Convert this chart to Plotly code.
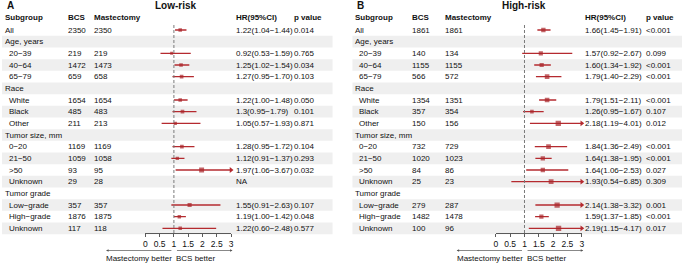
import plotly.graph_objects as go

# ---------------- data ----------------
subgroups = ["All", "Age, years", "20−39", "40−64", "65−79", "Race", "White", "Black", "Other",
             "Tumor size, mm", "0−20", "21−50", ">50", "Unknown", "Tumor grade",
             "Low−grade", "High−grade", "Unknown"]
is_header = [False, True, False, False, False, True, False, False, False,
             True, False, False, False, False, True, False, False, False]

bcs_low = [2350, None, 219, 1472, 659, None, 1654, 485, 211, None, 1169, 1059, 93, 29, None, 357, 1876, 117]
mast_low = [2350, None, 219, 1473, 658, None, 1654, 483, 213, None, 1169, 1058, 95, 28, None, 357, 1875, 118]
hr_low = [1.22, None, 0.92, 1.25, 1.27, None, 1.22, 1.30, 1.05, None, 1.28, 1.12, 1.97, None, None, 1.55, 1.19, 1.22]
lo_low = [1.04, None, 0.53, 1.02, 0.95, None, 1.00, 0.95, 0.57, None, 0.95, 0.91, 1.06, None, None, 0.91, 1.00, 0.60]
hi_low = [1.44, None, 1.59, 1.54, 1.70, None, 1.48, 1.79, 1.93, None, 1.72, 1.37, 3.67, None, None, 2.63, 1.42, 2.48]
hrtxt_low = ["1.22(1.04−1.44)", "", "0.92(0.53−1.59)", "1.25(1.02−1.54)", "1.27(0.95−1.70)", "",
             "1.22(1.00−1.48)", "1.3(0.95−1.79)", "1.05(0.57−1.93)", "", "1.28(0.95−1.72)",
             "1.12(0.91−1.37)", "1.97(1.06−3.67)", "NA", "", "1.55(0.91−2.63)", "1.19(1.00−1.42)",
             "1.22(0.60−2.48)"]
p_low = ["0.014", "", "0.765", "0.034", "0.103", "", "0.050", "0.101", "0.871", "", "0.104", "0.293",
         "0.032", "", "", "0.107", "0.048", "0.577"]

bcs_high = [1861, None, 140, 1155, 566, None, 1354, 357, 150, None, 732, 1020, 84, 25, None, 279, 1482, 100]
mast_high = [1861, None, 134, 1155, 572, None, 1351, 354, 156, None, 729, 1023, 86, 23, None, 287, 1478, 96]
hr_high = [1.66, None, 1.57, 1.60, 1.79, None, 1.79, 1.26, 2.18, None, 1.84, 1.64, 1.64, 1.93, None, 2.14, 1.59, 2.19]
lo_high = [1.45, None, 0.92, 1.34, 1.40, None, 1.51, 0.95, 1.19, None, 1.36, 1.38, 1.06, 0.54, None, 1.38, 1.37, 1.15]
hi_high = [1.91, None, 2.67, 1.92, 2.29, None, 2.11, 1.67, 4.01, None, 2.49, 1.95, 2.53, 6.85, None, 3.32, 1.85, 4.17]
hrtxt_high = ["1.66(1.45−1.91)", "", "1.57(0.92−2.67)", "1.60(1.34−1.92)", "1.79(1.40−2.29)", "",
              "1.79(1.51−2.11)", "1.26(0.95−1.67)", "2.18(1.19−4.01)", "", "1.84(1.36−2.49)",
              "1.64(1.38−1.95)", "1.64(1.06−2.53)", "1.93(0.54−6.85)", "", "2.14(1.38−3.32)",
              "1.59(1.37−1.85)", "2.19(1.15−4.17)"]
p_high = ["<0.001", "", "0.099", "<0.001", "<0.001", "", "<0.001", "0.107", "0.012", "", "<0.001",
          "<0.001", "0.027", "0.309", "", "0.001", "<0.001", "0.017"]

x_ticks = [0, 0.5, 1, 1.5, 2, 2.5, 3]
x_ticktext = ["0", "0.5", "1", "1.5", "2", "2.5", "3"]

# ---------------- layout helpers ----------------
W, H = 685, 266
ROW0, ROWH = 30.0, 11.667
FONT = "Liberation Sans, Arial, Helvetica, sans-serif"
TXT = "#111111"
MARK = "#A82328"
LINE = "#B52A2F"
STRIPE = "#EFEFEF"
XMAX = 3


def yv(p):
    return (p - ROW0) / ROWH


def px(x):
    return x / W


fig = go.Figure()
annotations = []
shapes = []


def ann(x, y, text, size=8, bold=False, anchor="left"):
    annotations.append(dict(
        x=px(x), y=y, xref="paper", yref="y", text=("<b>%s</b>" % text) if bold else text,
        showarrow=False, xanchor=anchor, yanchor="middle", borderpad=0, borderwidth=0,
        font=dict(family=FONT, size=size, color=TXT)))


panels = [
    dict(xa="x", letter="A", title="Low-risk", tcx=175, bcs=bcs_low, mast=mast_low,
         hr=hr_low, lo=lo_low, hi=hi_low, hrtxt=hrtxt_low, p=p_low,
         cols=dict(sub=3.3, bcs=66, mast=93, hr=236, p=294.5), stripe=(0, 333),
         dom=(144.4, 230.7)),
    dict(xa="x2", letter="B", title="High-risk", tcx=526, bcs=bcs_high, mast=mast_high,
         hr=hr_high, lo=lo_high, hi=hi_high, hrtxt=hrtxt_high, p=p_high,
         cols=dict(sub=356, bcs=413, mast=446, hr=587, p=649), stripe=(353, 685),
         dom=(497.5, 584.0)),
]

for pn in panels:
    c = pn["cols"]
    # stripes
    for i in range(len(subgroups)):
        if i % 2 == 1:
            shapes.append(dict(type="rect", xref="paper", yref="y",
                               x0=px(pn["stripe"][0]), x1=px(pn["stripe"][1]),
                               y0=i - 0.5, y1=i + 0.5, fillcolor=STRIPE,
                               line=dict(width=0), layer="below"))
    # panel letter and title
    ann(c["sub"] + 1.5, yv(5), pn["letter"], size=10, bold=True)
    ann(pn["tcx"], yv(5), pn["title"], size=10, bold=True, anchor="center")
    # header
    ann(c["sub"], yv(17), "Subgroup", bold=True)
    ann(c["bcs"], yv(17), "BCS", bold=True)
    ann(c["mast"], yv(17), "Mastectomy", bold=True)
    ann(c["hr"], yv(17), "HR(95%CI)", bold=True)
    ann(c["p"], yv(17), "p value", bold=True)
    # rows
    for i, lab in enumerate(subgroups):
        ann(c["sub"] + (0 if (is_header[i] or i == 0) else 4), i, lab)
        if pn["bcs"][i] is not None:
            ann(c["bcs"], i, str(pn["bcs"][i]))
            ann(c["mast"], i, str(pn["mast"][i]))
        if pn["hrtxt"][i]:
            ann(c["hr"], i, pn["hrtxt"][i])
        if pn["p"][i]:
            ann(c["p"], i, pn["p"][i])

    # CI lines
    lx, ly, ax_, ay_ = [], [], [], []
    for i in range(len(subgroups)):
        if pn["hr"][i] is None:
            continue
        lx += [pn["lo"][i], min(pn["hi"][i], XMAX), None]
        ly += [i, i, None]
        if pn["hi"][i] > XMAX:
            ax_.append(XMAX)
            ay_.append(i)
    fig.add_trace(go.Scatter(x=lx, y=ly, mode="lines", xaxis=pn["xa"], yaxis="y",
                             line=dict(color=LINE, width=1.4), hoverinfo="skip",
                             showlegend=False))
    if ax_:
        fig.add_trace(go.Scatter(x=ax_, y=ay_, mode="markers", xaxis=pn["xa"], yaxis="y",
                                 marker=dict(symbol="triangle-right", size=5, color=LINE),
                                 cliponaxis=False, hoverinfo="skip", showlegend=False))
    # point estimates
    mx = [v for v in pn["hr"] if v is not None]
    my = [i for i, v in enumerate(pn["hr"]) if v is not None]
    ms = [1.2 + 1.9 * v for v in mx]
    fig.add_trace(go.Scatter(x=mx, y=my, mode="markers", xaxis=pn["xa"], yaxis="y",
                             marker=dict(symbol="square", size=ms, color=MARK,
                                         line=dict(width=0)),
                             hoverinfo="skip", showlegend=False))
    # reference dashed line at HR=1
    shapes.append(dict(type="line", xref=pn["xa"], yref="y", x0=1, x1=1,
                       y0=yv(25), y1=yv(233),
                       line=dict(color="#7a7a7a", width=1, dash="3px,2px")))
    # direction arrows and labels
    x1pix = pn["dom"][0] + (pn["dom"][1] - pn["dom"][0]) / 3.0
    ya = yv(250.5)
    annotations.append(dict(x=px(pn["dom"][0] - 39.5), y=ya, xref="paper", yref="y",
                            ax=(x1pix - 1.5) - (pn["dom"][0] - 39.5), ay=0, text="",
                            showarrow=True, arrowhead=2, arrowsize=0.7, arrowwidth=0.7,
                            arrowcolor="#555555", standoff=0, startstandoff=0))
    annotations.append(dict(x=px(pn["dom"][1] + 1.5), y=ya, xref="paper", yref="y",
                            ax=(x1pix + 2) - (pn["dom"][1] + 1.5), ay=0, text="",
                            showarrow=True, arrowhead=2, arrowsize=0.7, arrowwidth=0.7,
                            arrowcolor="#555555", standoff=0, startstandoff=0))
    ann(x1pix - 1.5, yv(258), "Mastectomy better", anchor="right")
    ann(x1pix + 2.5, yv(258), "BCS better", anchor="left")

axis_common = dict(range=[0, XMAX], anchor="free", position=1 - 233 / H,
                   showline=True, linecolor="#333333", linewidth=0.8,
                   ticks="outside", ticklen=3, tickwidth=0.8, tickcolor="#333333",
                   tickvals=x_ticks, ticktext=x_ticktext,
                   tickfont=dict(family=FONT, size=8.5, color=TXT),
                   showgrid=False, zeroline=False, fixedrange=True)

fig.update_layout(
    width=W, height=H, autosize=False,
    margin=dict(l=0, r=0, t=0, b=0, pad=0),
    paper_bgcolor="white", plot_bgcolor="rgba(0,0,0,0)",
    xaxis=dict(domain=[px(panels[0]["dom"][0]), px(panels[0]["dom"][1])], **axis_common),
    xaxis2=dict(domain=[px(panels[1]["dom"][0]), px(panels[1]["dom"][1])], **axis_common),
    yaxis=dict(domain=[0, 1], range=[yv(H), yv(0)], visible=False, fixedrange=True),
    annotations=annotations, shapes=shapes, hovermode=False, showlegend=False,
)

fig.write_html("out.html", config={"displayModeBar": False, "staticPlot": True},
               post_script="document.body.style.margin='0px';document.body.style.padding='0px';")
